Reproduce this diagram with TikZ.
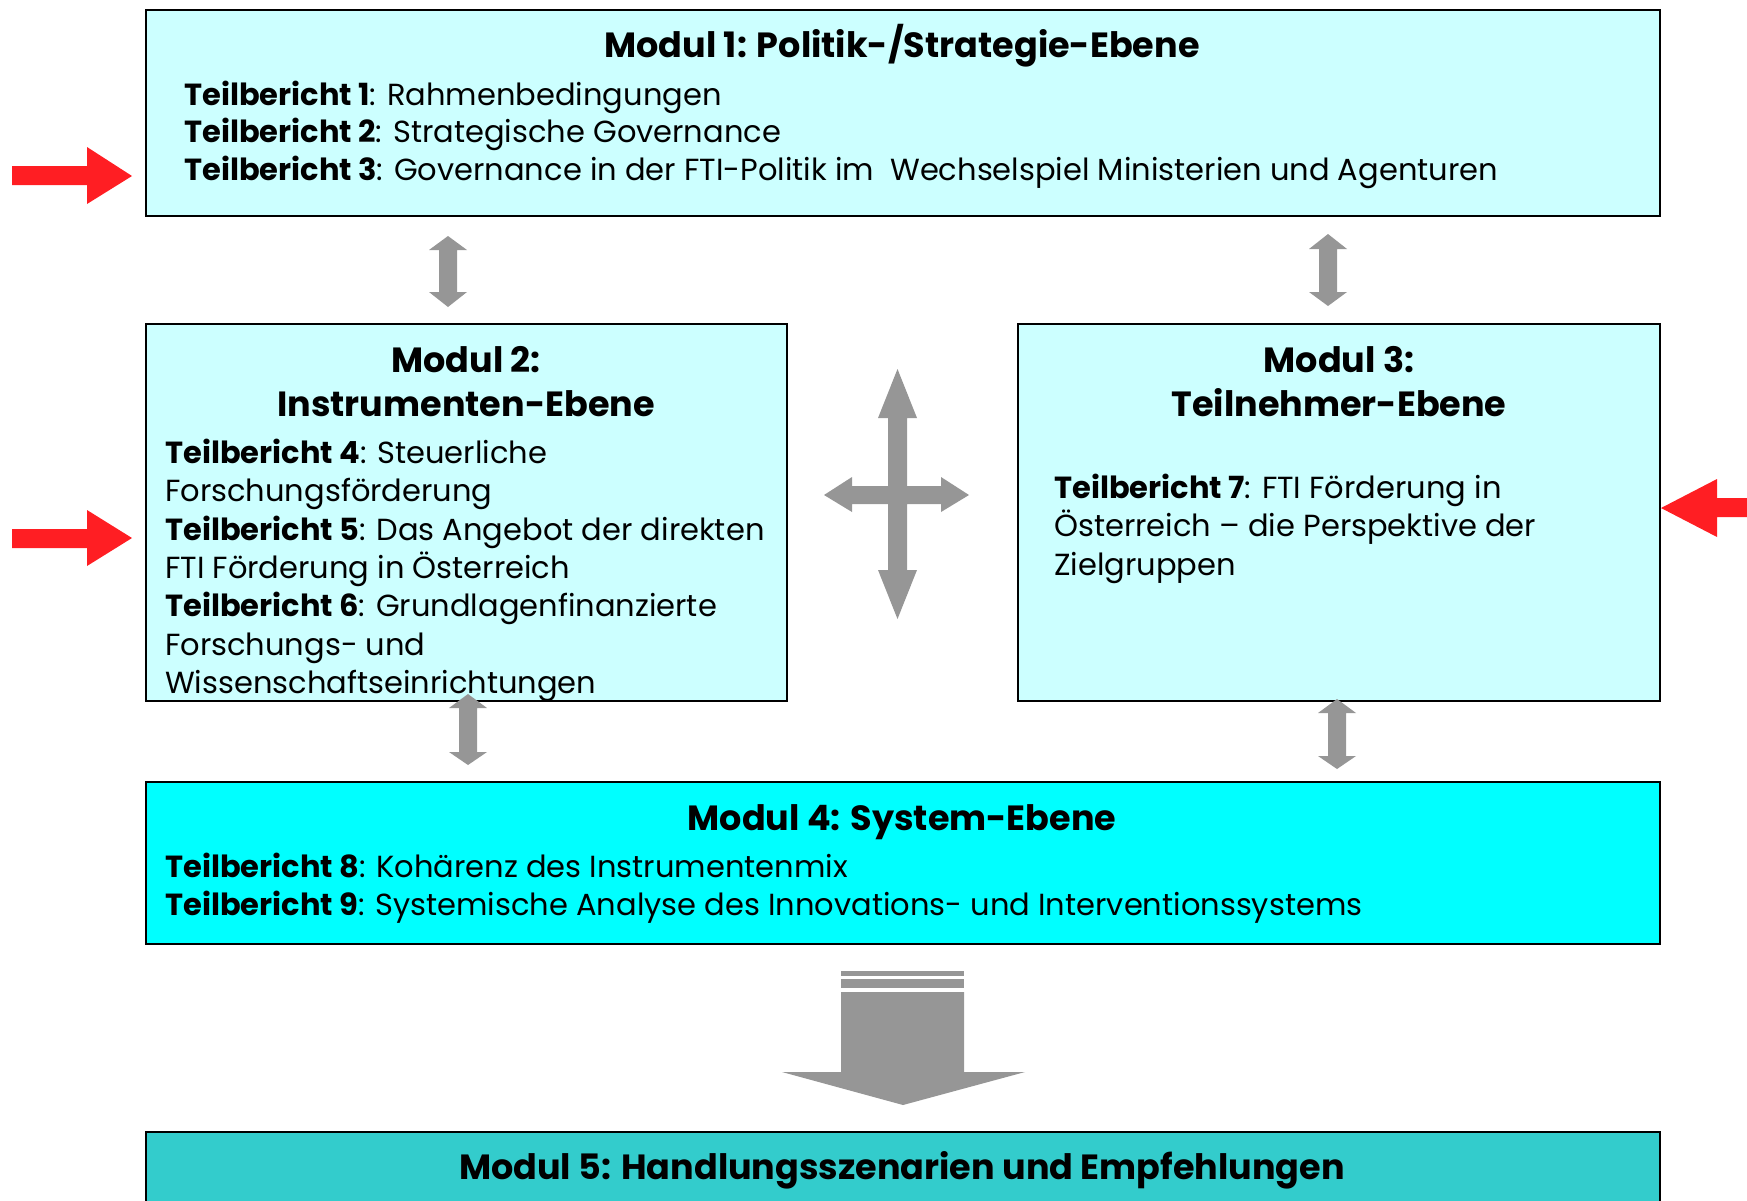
\documentclass[tikz,border=0pt]{standalone}
\usepackage{fontspec}
\setmainfont{Poppins}
\definecolor{lightc}{RGB}{204,255,255}
\definecolor{cyanc}{RGB}{0,255,255}
\definecolor{tealc}{RGB}{51,204,204}
\definecolor{arrgray}{RGB}{150,150,150}
\definecolor{arrred}{RGB}{255,30,35}
\newcommand\bodyfnt{\fontsize{30.5}{38}\selectfont}
\newcommand\titlefnt{\fontsize{35}{40}\selectfont\bfseries}
\begin{document}
\begin{tikzpicture}[x=1pt,y=-1pt,
  modbox/.style={draw=black,line width=1.8pt},
  body/.style={anchor=base west,inner sep=0pt,font=\bodyfnt},
  ttl/.style={anchor=base,inner sep=0pt,font=\titlefnt},
  grayarr/.style={fill=arrgray,draw=none},
  redarr/.style={fill=arrred,draw=none}]
\useasboundingbox (0,0) rectangle (1747,1200);
\clip (0,0) rectangle (1747,1200);
% boxes
\path[modbox,fill=lightc] (146,10) rectangle (1660,216);
\path[modbox,fill=lightc] (146,324) rectangle (787,701);
\path[modbox,fill=lightc] (1018,324) rectangle (1660,701);
\path[modbox,fill=cyanc] (146,782) rectangle (1660,944);
\path[modbox,fill=tealc] (146,1132) rectangle (1660,1220);
% box 1
\node[ttl] (m1) at (902,57) {Modul 1: Politik-/Strategie-Ebene};
\node[body] (t1) at (184,105) {\textbf{Teilbericht 1}: Rahmenbedingungen};
\node[body] (t2) at (184,142) {\textbf{Teilbericht 2}: Strategische Governance};
\node[body] (t3) at (184,180) {\textbf{Teilbericht 3}: Governance in der FTI-Politik im \ Wechselspiel Ministerien und Agenturen};
% box 2
\node[ttl] (m2a) at (466,372) {Modul 2:};
\node[ttl] (m2b) at (466,416) {Instrumenten-Ebene};
\node[body] (t4a) at (165,463) {\textbf{Teilbericht 4}: Steuerliche};
\node[body] (t4b) at (165,501) {Forschungsförderung};
\node[body] (t5a) at (165,540) {\textbf{Teilbericht 5}: Das Angebot der direkten};
\node[body] (t5b) at (165,578) {FTI Förderung in Österreich};
\node[body] (t6a) at (165,616) {\textbf{Teilbericht 6}: Grundlagenfinanzierte};
\node[body] (t6b) at (165,655) {Forschungs- und};
\node[body] (t6c) at (165,693) {Wissenschaftseinrichtungen};
% box 3
\node[ttl] (m3a) at (1339,372) {Modul 3:};
\node[ttl] (m3b) at (1339,416) {Teilnehmer-Ebene};
\node[body] (t7a) at (1054,498) {\textbf{Teilbericht 7}: FTI Förderung in};
\node[body] (t7b) at (1054,536) {Österreich – die Perspektive der};
\node[body] (t7c) at (1054,575) {Zielgruppen};
% box 4
\node[ttl] (m4) at (902,830) {Modul 4: System-Ebene};
\node[body] (t8) at (165,877) {\textbf{Teilbericht 8}: Kohärenz des Instrumentenmix};
\node[body] (t9) at (165,915) {\textbf{Teilbericht 9}: Systemische Analyse des Innovations- und Interventionssystems};
% box 5
\node[ttl] (m5) at (902,1179) {Modul 5: Handlungsszenarien und Empfehlungen};
% gray double arrows
\path[grayarr] (448,236) -- (467,250) -- (457,250) -- (457,292) -- (467,292) -- (448,307) -- (429,292) -- (439,292) -- (439,250) -- (429,250) -- cycle;
\path[grayarr] (1328,234) -- (1347,249) -- (1337,249) -- (1337,292) -- (1347,292) -- (1328,306) -- (1309,292) -- (1319,292) -- (1319,249) -- (1309,249) -- cycle;
\path[grayarr] (468,694) -- (487,708) -- (477,708) -- (477,752) -- (487,752) -- (468,765) -- (449,752) -- (459,752) -- (459,708) -- (449,708) -- cycle;
\path[grayarr] (1337,699) -- (1356,713) -- (1346,713) -- (1346,756) -- (1356,756) -- (1337,769) -- (1318,756) -- (1328,756) -- (1328,713) -- (1318,713) -- cycle;
% cross arrow
\path[grayarr] (897.5,369) -- (917,418) -- (907,418) -- (907,486) -- (941,486) -- (941,477) -- (969,495) -- (941,512) -- (941,504) -- (907,504) -- (907,570) -- (917,570) -- (897.5,619) -- (878,570) -- (888,570) -- (888,504) -- (852,504) -- (852,512) -- (824,495) -- (852,477) -- (852,486) -- (888,486) -- (888,418) -- (878,418) -- cycle;
% big arrow
\path[grayarr] (841,971) rectangle (964,976);
\path[grayarr] (841,979) rectangle (964,988);
\path[grayarr] (841,992) -- (964,992) -- (964,1072) -- (1025,1072) -- (903,1105) -- (782,1072) -- (841,1072) -- cycle;
% red arrows
\path[redarr] (12,166) -- (87,166) -- (87,147) -- (132,176) -- (87,204) -- (87,185) -- (12,185) -- cycle;
\path[redarr] (12,529) -- (87,529) -- (87,510) -- (132,538) -- (87,566) -- (87,548) -- (12,548) -- cycle;
\path[redarr] (1750,498) -- (1717,498) -- (1717,479) -- (1661,508) -- (1717,537) -- (1717,517) -- (1750,517) -- cycle;
\end{tikzpicture}
\end{document}
